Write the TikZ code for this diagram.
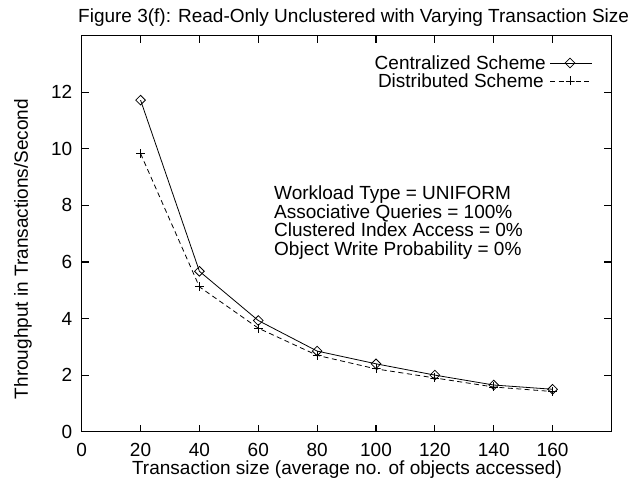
\documentclass[tikz,border=0pt]{standalone}
\usepackage{fontspec}
\setmainfont{Liberation Sans}
\usetikzlibrary{shapes.geometric}

\tikzset{
  frameline/.style={line width=1.1pt},
  cline/.style={line width=0.8pt},
  dline/.style={line width=0.8pt, dash pattern=on 5pt off 3.5pt},
  dmark/.style={diamond, draw, line width=0.8pt, inner sep=0pt, minimum size=10pt},
  pmark/.style={inner sep=0pt, minimum size=9pt,
    path picture={\draw[line width=0.8pt]
      (path picture bounding box.west) -- (path picture bounding box.east)
      (path picture bounding box.north) -- (path picture bounding box.south);}},
  txt/.style={inner sep=0pt},
}

\begin{document}
\begin{tikzpicture}[x=1pt, y=1pt, font=\fontsize{19}{22}\selectfont]
  \useasboundingbox (0,0) rectangle (631,481);

  \node[txt, anchor=base west] (title) at (78,458) {Figure 3(f): Read-Only Unclustered with Varying Transaction Size};
  \node[txt, rotate=90] (ylabel) at (23,232) {Throughput in Transactions/Second};
  \node[txt, anchor=base] (xlabel) at (347,6.5) {Transaction size (average no. of objects accessed)};

  \begin{scope}[shift={(81.7,49.3)}, x=2.943pt, y=28.29pt]

    % frame and ticks
    \draw[frameline] (0,0) rectangle (180,14);
    \foreach \t in {20,40,...,160} {
      \draw[frameline] (\t,0) -- ++(0,7pt);
      \draw[frameline] (\t,14) -- ++(0,-7pt);
    }
    \foreach \t in {2,4,...,12} {
      \draw[frameline] (0,\t) -- ++(7pt,0);
      \draw[frameline] (180,\t) -- ++(-7pt,0);
    }
    \foreach \t in {0,20,...,160}
      \node (x\t) at (\t,0) [yshift=-18pt] {\t};
    \foreach \t in {0,2,...,12}
      \node[anchor=east] (y\t) at (0,\t) [xshift=-6pt] {\t};

    % data points
    \coordinate (c1) at (20,11.72);
    \coordinate (c2) at (40,5.67);
    \coordinate (c3) at (60,3.93);
    \coordinate (c4) at (80,2.85);
    \coordinate (c5) at (100,2.40);
    \coordinate (c6) at (120,2.00);
    \coordinate (c7) at (140,1.65);
    \coordinate (c8) at (160,1.50);

    \coordinate (d1) at (20,9.83);
    \coordinate (d2) at (40,5.12);
    \coordinate (d3) at (60,3.66);
    \coordinate (d4) at (80,2.70);
    \coordinate (d5) at (100,2.22);
    \coordinate (d6) at (120,1.90);
    \coordinate (d7) at (140,1.58);
    \coordinate (d8) at (160,1.42);

    \draw[cline] (c1) -- (c2) -- (c3) -- (c4) -- (c5) -- (c6) -- (c7) -- (c8);
    \draw[dline] (d1) -- (d2) -- (d3) -- (d4) -- (d5) -- (d6) -- (d7) -- (d8);

    \foreach \i in {1,...,8} {
      \node[dmark] (cm\i) at (c\i) {};
      \node[pmark] (dm\i) at (d\i) {};
    }
  \end{scope}

  % legend
  \node[txt, anchor=east] (ctext) at (546,418) {Centralized Scheme};
  \node[txt, anchor=east] (dtext) at (544,400) {Distributed Scheme};
  \coordinate (cl) at (550,418);
  \coordinate (cr) at (592,418);
  \coordinate (dl) at (550,400);
  \coordinate (dr) at (592,400);
  \draw[cline] (cl) -- (cr);
  \draw[dline] (dl) -- (dr);
  \node[dmark] (cleg) at (570,418) {};
  \node[pmark] (dleg) at (570,400) {};

  % workload settings
  \node[txt, anchor=base west] (w1) at (274,281) {Workload Type = UNIFORM};
  \node[txt, anchor=base west] (w2) at (274,262.5) {Associative Queries = 100\%};
  \node[txt, anchor=base west] (w3) at (274,244) {Clustered Index Access = 0\%};
  \node[txt, anchor=base west] (w4) at (274,225.5) {Object Write Probability = 0\%};

\end{tikzpicture}
\end{document}
